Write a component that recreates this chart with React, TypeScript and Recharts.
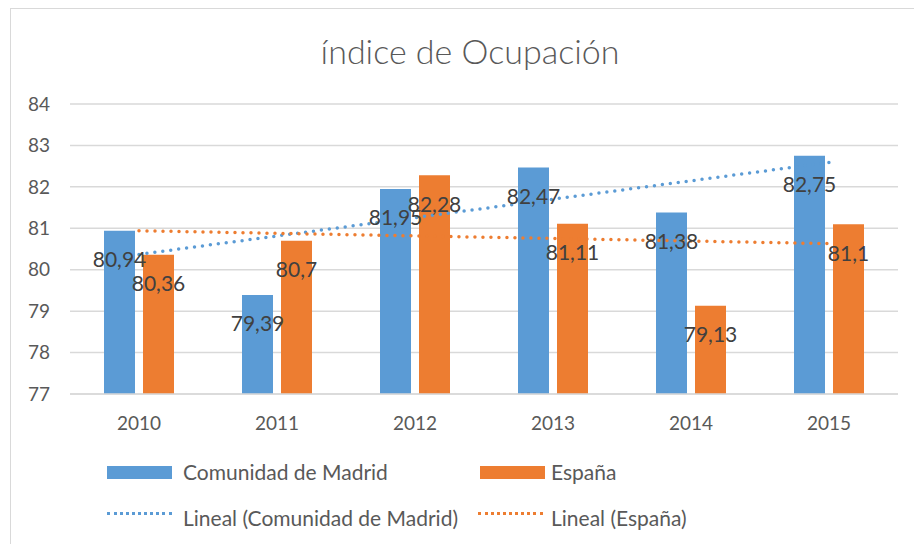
import React from 'react';
import {
  ComposedChart,
  Bar,
  Line,
  XAxis,
  YAxis,
  CartesianGrid,
  Legend,
  LabelList,
} from 'recharts';

const years = ['2010', '2011', '2012', '2013', '2014', '2015'];
const madrid = [80.94, 79.39, 81.95, 82.47, 81.38, 82.75];
const espana = [80.36, 80.7, 82.28, 81.11, 79.13, 81.1];
// trend line end points (middle left empty, joined straight)
const trendMadrid = [80.37, null, null, null, null, 82.59];
const trendEspana = [80.94, null, null, null, null, 80.63];
const yTicks = [77, 78, 79, 80, 81, 82, 83, 84];

const BLUE = '#5B9BD5';
const ORANGE = '#ED7D31';
const TEXT = '#595959';
const GRID = '#d9d9d9';
const FONT = 'Lato, "Open Sans", sans-serif';

const data = years.map((year, i) => ({
  year,
  madrid: madrid[i],
  espana: espana[i],
  trendMadrid: trendMadrid[i],
  trendEspana: trendEspana[i],
}));

const fmt = (v: number) => String(v).replace('.', ',');

const BarLabel = (props: any) => {
  const { x, y, width, value } = props;
  return (
    <text
      x={x + width / 2}
      y={y + 28}
      textAnchor="middle"
      dominantBaseline="central"
      fill="#404040"
      fontSize={21}
      fontFamily={FONT}
    >
      {fmt(value)}
    </text>
  );
};

const legendText: React.CSSProperties = {
  position: 'absolute',
  fontSize: 21,
  color: TEXT,
  fontFamily: FONT,
  whiteSpace: 'nowrap',
  lineHeight: '24px',
};

const dotted = (color: string): React.CSSProperties => ({
  position: 'absolute',
  width: 65,
  height: 0,
  borderTop: `3px dotted ${color}`,
});

const ChartLegend = () => (
  <div style={{ position: 'relative', width: 914, height: 80 }}>
    <div style={{ position: 'absolute', left: 107, top: 14, width: 65, height: 13, background: BLUE }} />
    <span style={{ ...legendText, left: 183, top: 8 }}>Comunidad de Madrid</span>
    <div style={{ position: 'absolute', left: 480, top: 14, width: 65, height: 13, background: ORANGE }} />
    <span style={{ ...legendText, left: 551, top: 8 }}>España</span>
    <div style={{ ...dotted(BLUE), left: 107, top: 60 }} />
    <span style={{ ...legendText, left: 183, top: 54 }}>Lineal (Comunidad de Madrid)</span>
    <div style={{ ...dotted(ORANGE), left: 478, top: 60 }} />
    <span style={{ ...legendText, left: 551, top: 54 }}>Lineal (España)</span>
  </div>
);

export default function App() {
  return (
    <div
      style={{
        position: 'absolute',
        left: 0,
        top: 0,
        width: 914,
        height: 544,
        overflow: 'hidden',
        background: '#fff',
        fontFamily: FONT,
      }}
    >
      <div
        style={{
          position: 'absolute',
          left: 10,
          top: 8,
          width: 940,
          height: 580,
          border: `1.5px solid ${GRID}`,
        }}
      />
      <div
        style={{
          position: 'absolute',
          left: 0,
          width: 940,
          top: 30,
          textAlign: 'center',
          fontSize: 34,
          fontWeight: 300,
          color: TEXT,
          fontFamily: FONT,
        }}
      >
        índice de Ocupación
      </div>
      <div style={{ position: 'absolute', left: 0, top: 0 }}>
        <ComposedChart
          width={914}
          height={544}
          data={data}
          margin={{ top: 104, right: 16, left: 0, bottom: 40 }}
          barGap={8}
        >
          <CartesianGrid vertical={false} stroke={GRID} strokeWidth={1.5} />
          <XAxis
            dataKey="year"
            axisLine={{ stroke: GRID, strokeWidth: 1.5 }}
            tickLine={false}
            height={30}
            tick={{ fill: TEXT, fontSize: 19, fontFamily: FONT }}
            tickMargin={17}
          />
          <YAxis
            domain={[77, 84]}
            ticks={yTicks}
            interval={0}
            width={70}
            axisLine={false}
            tickLine={false}
            tick={{ fill: TEXT, fontSize: 19, fontFamily: FONT, dx: -12 }}
          />
          <Legend
            verticalAlign="bottom"
            content={<ChartLegend />}
            wrapperStyle={{ left: 0, top: 452, bottom: 'auto', width: 914, height: 80 }}
          />
          <Bar dataKey="madrid" fill={BLUE} barSize={31} isAnimationActive={false}>
            <LabelList dataKey="madrid" content={<BarLabel />} />
          </Bar>
          <Bar dataKey="espana" fill={ORANGE} barSize={31} isAnimationActive={false}>
            <LabelList dataKey="espana" content={<BarLabel />} />
          </Bar>
          <Line
            dataKey="trendMadrid"
            type="linear"
            stroke={BLUE}
            strokeWidth={3.5}
            strokeDasharray="0 8"
            strokeLinecap="round"
            dot={false}
            connectNulls
            legendType="none"
            isAnimationActive={false}
          />
          <Line
            dataKey="trendEspana"
            type="linear"
            stroke={ORANGE}
            strokeWidth={3.5}
            strokeDasharray="0 8"
            strokeLinecap="round"
            dot={false}
            connectNulls
            legendType="none"
            isAnimationActive={false}
          />
        </ComposedChart>
      </div>
    </div>
  );
}
